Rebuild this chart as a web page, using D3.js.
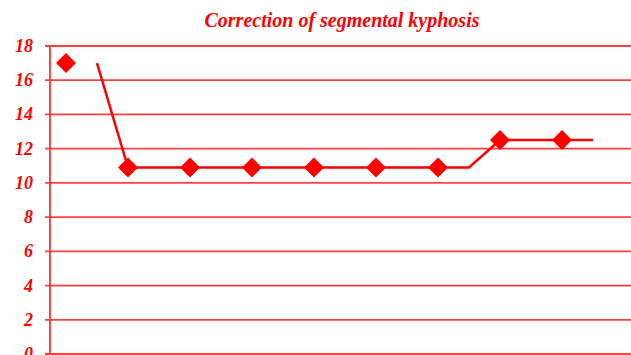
<!DOCTYPE html>
<html>
<head>
<meta charset="UTF-8">
<title>Correction of segmental kyphosis</title>
<script src="https://d3js.org/d3.v7.min.js"></script>
<style>
  body { margin: 0; background: #fff; }
  svg { display: block; }
  .lbl { font-family: "Liberation Serif", "Times New Roman", serif; font-style: italic; font-weight: bold; fill: #ff0000; }
</style>
</head>
<body>
<div id="chart"></div>
<script>
  // data
  const categories = [1, 2, 3, 4, 5, 6, 7, 8, 9];
  const markerValues = [17, 10.9, 10.9, 10.9, 10.9, 10.9, 10.9, 12.5, 12.5];
  // line series, x given in category index units
  const lineX = [0.5, 1, 6.5, 7, 8.5];
  const lineValues = [17, 10.9, 10.9, 12.5, 12.5];
  const yTicks = [0, 2, 4, 6, 8, 10, 12, 14, 16, 18];
  const title = "Correction of segmental kyphosis";

  const W = 631, H = 355;
  const margin = {top: 46, right: 0, bottom: 1, left: 50};
  const red = "#ff0000";

  const svg = d3.select("#chart").append("svg")
    .attr("width", W).attr("height", H);

  const x = d3.scaleLinear().domain([0, 1]).range([margin.left + 16, margin.left + 16 + 62]);
  const y = d3.scaleLinear().domain([0, 18]).range([H - margin.bottom, margin.top]);

  // gridlines
  svg.append("g").selectAll("line").data(yTicks).join("line")
    .attr("x1", margin.left - 5).attr("x2", W)
    .attr("y1", d => y(d)).attr("y2", d => y(d))
    .attr("stroke", "#ff4040").attr("stroke-width", 1.8);

  // y axis line
  svg.append("line")
    .attr("x1", margin.left).attr("x2", margin.left)
    .attr("y1", y(18)).attr("y2", y(0))
    .attr("stroke", "#ff3030").attr("stroke-width", 1.8);

  // y tick labels
  svg.append("g").selectAll("text").data(yTicks).join("text")
    .attr("class", "lbl")
    .attr("x", 33).attr("y", d => y(d) + 6)
    .attr("text-anchor", "end")
    .style("font-size", "18px")
    .text(d => d);

  // line
  const line = d3.line()
    .x((d, i) => x(lineX[i]))
    .y(d => y(d));
  svg.append("path")
    .datum(lineValues)
    .attr("fill", "none")
    .attr("stroke", red)
    .attr("stroke-width", 2.5)
    .attr("d", line);

  // diamonds
  svg.append("g").selectAll("path").data(markerValues).join("path")
    .attr("transform", (d, i) => `translate(${x(i)},${y(d)})`)
    .attr("d", "M0,-10L10,0L0,10L-10,0Z")
    .attr("fill", red);

  // title
  svg.append("text")
    .attr("class", "lbl")
    .attr("x", 342).attr("y", 27)
    .attr("text-anchor", "middle")
    .style("font-size", "20px")
    .text(title);
</script>
</body>
</html>
